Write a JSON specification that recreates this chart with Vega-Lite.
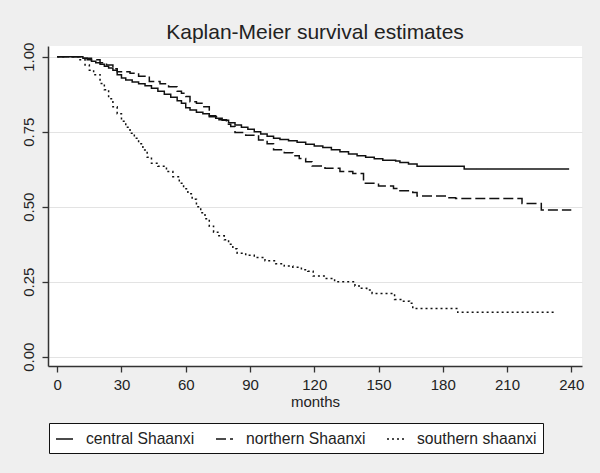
{
  "$schema": "https://vega.github.io/schema/vega-lite/v6.json",
  "width": 534,
  "height": 320,
  "autosize": {"type": "none"},
  "padding": {"left": 48, "top": 46, "right": 18, "bottom": 107},
  "background": "#efefef",
  "title": {"text": "Kaplan-Meier survival estimates", "fontSize": 21, "font": "Liberation Sans", "fontWeight": "normal", "color": "#222222", "anchor": "middle", "frame": "group", "baseline": "alphabetic", "offset": -18},
  "config": {"view": {"fill": "white", "stroke": null}, "font": "Liberation Sans"},
  "datasets": {
    "km": [
      {"group": "central Shaanxi", "month": 0, "surv": 1.0},
      {"group": "central Shaanxi", "month": 12, "surv": 0.995},
      {"group": "central Shaanxi", "month": 14, "surv": 0.99},
      {"group": "central Shaanxi", "month": 16, "surv": 0.985},
      {"group": "central Shaanxi", "month": 18, "surv": 0.98},
      {"group": "central Shaanxi", "month": 20, "surv": 0.975},
      {"group": "central Shaanxi", "month": 22, "surv": 0.968},
      {"group": "central Shaanxi", "month": 24, "surv": 0.962},
      {"group": "central Shaanxi", "month": 26, "surv": 0.955},
      {"group": "central Shaanxi", "month": 28, "surv": 0.94},
      {"group": "central Shaanxi", "month": 30, "surv": 0.929},
      {"group": "central Shaanxi", "month": 32, "surv": 0.922},
      {"group": "central Shaanxi", "month": 35, "surv": 0.916},
      {"group": "central Shaanxi", "month": 38, "surv": 0.91},
      {"group": "central Shaanxi", "month": 41, "surv": 0.903},
      {"group": "central Shaanxi", "month": 44, "surv": 0.895},
      {"group": "central Shaanxi", "month": 47, "surv": 0.885},
      {"group": "central Shaanxi", "month": 50, "surv": 0.875},
      {"group": "central Shaanxi", "month": 53, "surv": 0.865},
      {"group": "central Shaanxi", "month": 56, "surv": 0.853},
      {"group": "central Shaanxi", "month": 58, "surv": 0.845},
      {"group": "central Shaanxi", "month": 60, "surv": 0.83},
      {"group": "central Shaanxi", "month": 62, "surv": 0.822},
      {"group": "central Shaanxi", "month": 65, "surv": 0.815},
      {"group": "central Shaanxi", "month": 68, "surv": 0.81},
      {"group": "central Shaanxi", "month": 71, "surv": 0.803},
      {"group": "central Shaanxi", "month": 74, "surv": 0.795},
      {"group": "central Shaanxi", "month": 77, "surv": 0.788},
      {"group": "central Shaanxi", "month": 80, "surv": 0.78},
      {"group": "central Shaanxi", "month": 83, "surv": 0.772},
      {"group": "central Shaanxi", "month": 86, "surv": 0.765},
      {"group": "central Shaanxi", "month": 89, "surv": 0.758},
      {"group": "central Shaanxi", "month": 92, "surv": 0.75},
      {"group": "central Shaanxi", "month": 95, "surv": 0.742},
      {"group": "central Shaanxi", "month": 98, "surv": 0.735},
      {"group": "central Shaanxi", "month": 101, "surv": 0.728},
      {"group": "central Shaanxi", "month": 104, "surv": 0.724},
      {"group": "central Shaanxi", "month": 108, "surv": 0.72},
      {"group": "central Shaanxi", "month": 112, "surv": 0.715},
      {"group": "central Shaanxi", "month": 116, "surv": 0.708},
      {"group": "central Shaanxi", "month": 120, "surv": 0.702},
      {"group": "central Shaanxi", "month": 124, "surv": 0.697},
      {"group": "central Shaanxi", "month": 128, "surv": 0.69},
      {"group": "central Shaanxi", "month": 132, "surv": 0.683},
      {"group": "central Shaanxi", "month": 136, "surv": 0.676},
      {"group": "central Shaanxi", "month": 140, "surv": 0.67},
      {"group": "central Shaanxi", "month": 144, "surv": 0.665},
      {"group": "central Shaanxi", "month": 148, "surv": 0.66},
      {"group": "central Shaanxi", "month": 152, "surv": 0.655},
      {"group": "central Shaanxi", "month": 158, "surv": 0.652},
      {"group": "central Shaanxi", "month": 160, "surv": 0.647},
      {"group": "central Shaanxi", "month": 164, "surv": 0.642},
      {"group": "central Shaanxi", "month": 168, "surv": 0.635},
      {"group": "central Shaanxi", "month": 190, "surv": 0.626},
      {"group": "central Shaanxi", "month": 239, "surv": 0.626},
      {"group": "northern Shaanxi", "month": 0, "surv": 1.0},
      {"group": "northern Shaanxi", "month": 12, "surv": 0.995},
      {"group": "northern Shaanxi", "month": 16, "surv": 0.99},
      {"group": "northern Shaanxi", "month": 20, "surv": 0.98},
      {"group": "northern Shaanxi", "month": 23, "surv": 0.972},
      {"group": "northern Shaanxi", "month": 26, "surv": 0.96},
      {"group": "northern Shaanxi", "month": 28, "surv": 0.95},
      {"group": "northern Shaanxi", "month": 34, "surv": 0.945},
      {"group": "northern Shaanxi", "month": 38, "surv": 0.935},
      {"group": "northern Shaanxi", "month": 43, "surv": 0.917},
      {"group": "northern Shaanxi", "month": 48, "surv": 0.91},
      {"group": "northern Shaanxi", "month": 52, "surv": 0.9},
      {"group": "northern Shaanxi", "month": 56, "surv": 0.885},
      {"group": "northern Shaanxi", "month": 58, "surv": 0.878},
      {"group": "northern Shaanxi", "month": 60, "surv": 0.867},
      {"group": "northern Shaanxi", "month": 62, "surv": 0.85},
      {"group": "northern Shaanxi", "month": 65, "surv": 0.845},
      {"group": "northern Shaanxi", "month": 68, "surv": 0.833},
      {"group": "northern Shaanxi", "month": 71, "surv": 0.8},
      {"group": "northern Shaanxi", "month": 75, "surv": 0.79},
      {"group": "northern Shaanxi", "month": 79, "surv": 0.775},
      {"group": "northern Shaanxi", "month": 81, "surv": 0.767},
      {"group": "northern Shaanxi", "month": 83, "surv": 0.747},
      {"group": "northern Shaanxi", "month": 88, "surv": 0.738},
      {"group": "northern Shaanxi", "month": 94, "surv": 0.722},
      {"group": "northern Shaanxi", "month": 98, "surv": 0.71},
      {"group": "northern Shaanxi", "month": 101, "surv": 0.69},
      {"group": "northern Shaanxi", "month": 106, "surv": 0.68},
      {"group": "northern Shaanxi", "month": 110, "surv": 0.67},
      {"group": "northern Shaanxi", "month": 113, "surv": 0.661},
      {"group": "northern Shaanxi", "month": 116, "surv": 0.65},
      {"group": "northern Shaanxi", "month": 119, "surv": 0.636},
      {"group": "northern Shaanxi", "month": 125, "surv": 0.628},
      {"group": "northern Shaanxi", "month": 132, "surv": 0.617},
      {"group": "northern Shaanxi", "month": 138, "surv": 0.611},
      {"group": "northern Shaanxi", "month": 143, "surv": 0.578},
      {"group": "northern Shaanxi", "month": 150, "surv": 0.569},
      {"group": "northern Shaanxi", "month": 157, "surv": 0.561},
      {"group": "northern Shaanxi", "month": 160, "surv": 0.553},
      {"group": "northern Shaanxi", "month": 166, "surv": 0.547},
      {"group": "northern Shaanxi", "month": 168, "surv": 0.536},
      {"group": "northern Shaanxi", "month": 182, "surv": 0.53},
      {"group": "northern Shaanxi", "month": 186, "surv": 0.527},
      {"group": "northern Shaanxi", "month": 217, "surv": 0.511},
      {"group": "northern Shaanxi", "month": 226, "surv": 0.489},
      {"group": "northern Shaanxi", "month": 240, "surv": 0.489},
      {"group": "southern shaanxi", "month": 0, "surv": 1.0},
      {"group": "southern shaanxi", "month": 10, "surv": 0.99},
      {"group": "southern shaanxi", "month": 13, "surv": 0.972},
      {"group": "southern shaanxi", "month": 15, "surv": 0.955},
      {"group": "southern shaanxi", "month": 17, "surv": 0.94},
      {"group": "southern shaanxi", "month": 20, "surv": 0.911},
      {"group": "southern shaanxi", "month": 22, "surv": 0.89},
      {"group": "southern shaanxi", "month": 24, "surv": 0.86},
      {"group": "southern shaanxi", "month": 26, "surv": 0.833},
      {"group": "southern shaanxi", "month": 28, "surv": 0.81},
      {"group": "southern shaanxi", "month": 30, "surv": 0.785},
      {"group": "southern shaanxi", "month": 32, "surv": 0.765},
      {"group": "southern shaanxi", "month": 34, "surv": 0.745},
      {"group": "southern shaanxi", "month": 36, "surv": 0.728},
      {"group": "southern shaanxi", "month": 38, "surv": 0.71},
      {"group": "southern shaanxi", "month": 40, "surv": 0.689},
      {"group": "southern shaanxi", "month": 42, "surv": 0.665},
      {"group": "southern shaanxi", "month": 44, "surv": 0.645},
      {"group": "southern shaanxi", "month": 47, "surv": 0.635},
      {"group": "southern shaanxi", "month": 51, "surv": 0.617},
      {"group": "southern shaanxi", "month": 54, "surv": 0.6},
      {"group": "southern shaanxi", "month": 57, "surv": 0.578},
      {"group": "southern shaanxi", "month": 59, "surv": 0.56},
      {"group": "southern shaanxi", "month": 61, "surv": 0.543},
      {"group": "southern shaanxi", "month": 63, "surv": 0.525},
      {"group": "southern shaanxi", "month": 65, "surv": 0.5},
      {"group": "southern shaanxi", "month": 67, "surv": 0.48},
      {"group": "southern shaanxi", "month": 69, "surv": 0.46},
      {"group": "southern shaanxi", "month": 71, "surv": 0.435},
      {"group": "southern shaanxi", "month": 73, "surv": 0.415},
      {"group": "southern shaanxi", "month": 75, "surv": 0.403},
      {"group": "southern shaanxi", "month": 78, "surv": 0.39},
      {"group": "southern shaanxi", "month": 80, "surv": 0.375},
      {"group": "southern shaanxi", "month": 82, "surv": 0.36},
      {"group": "southern shaanxi", "month": 84, "surv": 0.345},
      {"group": "southern shaanxi", "month": 88, "surv": 0.338},
      {"group": "southern shaanxi", "month": 92, "surv": 0.331},
      {"group": "southern shaanxi", "month": 97, "surv": 0.32},
      {"group": "southern shaanxi", "month": 102, "surv": 0.31},
      {"group": "southern shaanxi", "month": 106, "surv": 0.302},
      {"group": "southern shaanxi", "month": 110, "surv": 0.298},
      {"group": "southern shaanxi", "month": 114, "surv": 0.29},
      {"group": "southern shaanxi", "month": 117, "surv": 0.285},
      {"group": "southern shaanxi", "month": 119.5, "surv": 0.269},
      {"group": "southern shaanxi", "month": 125, "surv": 0.261},
      {"group": "southern shaanxi", "month": 129.5, "surv": 0.25},
      {"group": "southern shaanxi", "month": 139, "surv": 0.236},
      {"group": "southern shaanxi", "month": 142, "surv": 0.228},
      {"group": "southern shaanxi", "month": 144.5, "surv": 0.222},
      {"group": "southern shaanxi", "month": 147, "surv": 0.211},
      {"group": "southern shaanxi", "month": 157.5, "surv": 0.191},
      {"group": "southern shaanxi", "month": 161, "surv": 0.185},
      {"group": "southern shaanxi", "month": 164.5, "surv": 0.178},
      {"group": "southern shaanxi", "month": 166, "surv": 0.161},
      {"group": "southern shaanxi", "month": 187, "surv": 0.148},
      {"group": "southern shaanxi", "month": 233, "surv": 0.148}
    ]
  },
  "data": {"name": "km"},
  "mark": {"type": "line", "interpolate": "step-after", "color": "#111111", "strokeWidth": 1.5},
  "encoding": {
    "x": {
      "field": "month", "type": "quantitative",
      "scale": {"domain": [-4.3, 245], "nice": false, "zero": false},
      "axis": {"values": [0, 30, 60, 90, 120, 150, 180, 210, 240], "grid": false, "title": "months", "titleFontSize": 15, "titleFontWeight": "normal", "titleColor": "#222222", "titlePadding": 2, "labelFontSize": 15, "labelColor": "#222222", "labelPadding": 5, "domainColor": "#333333", "domainWidth": 1.5, "tickColor": "#333333", "tickWidth": 1.3, "tickSize": 6, "labelFlush": false}
    },
    "y": {
      "field": "surv", "type": "quantitative",
      "scale": {"domain": [-0.031, 1.0357], "nice": false, "zero": false},
      "axis": {"values": [0, 0.25, 0.5, 0.75, 1], "format": ".2f", "grid": true, "gridColor": "#e3e3e3", "gridWidth": 1, "title": null, "labelAngle": -90, "labelFontSize": 15, "labelColor": "#222222", "labelPadding": 6, "domainColor": "#333333", "domainWidth": 1.5, "tickColor": "#333333", "tickWidth": 1.3, "tickSize": 6, "labelFlush": false}
    },
    "strokeDash": {
      "field": "group", "type": "nominal",
      "scale": {"domain": ["central Shaanxi", "northern Shaanxi", "southern shaanxi"], "range": [[1, 0], [10, 4], [2, 3]]},
      "legend": {"orient": "none", "legendX": 1, "legendY": 377, "direction": "horizontal", "title": null, "fillColor": "white", "strokeColor": "#111111", "padding": 6, "symbolType": "stroke", "symbolSize": 289, "symbolStrokeColor": "#111111", "symbolStrokeWidth": 1.5, "labelFontSize": 15.7, "labelColor": "#222222", "labelOffset": 12, "columnPadding": 18}
    }
  }
}
